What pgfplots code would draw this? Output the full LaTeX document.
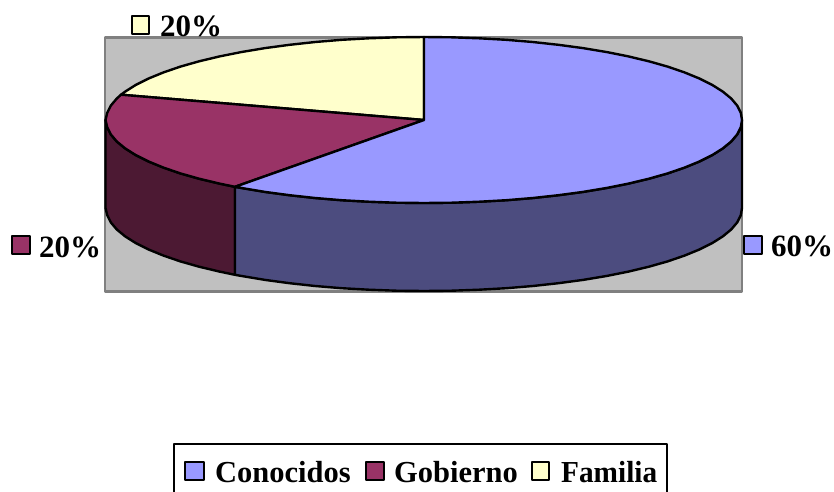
\documentclass[border=0pt]{standalone}
\usepackage{pgfplots}
\pgfplotsset{compat=1.18}
\usepackage{fontspec}
\setmainfont{Liberation Serif}
\definecolor{cblue}{HTML}{9999FF}
\definecolor{cmar}{HTML}{993366}
\definecolor{cyel}{HTML}{FFFFCC}
\definecolor{dblue}{HTML}{4C4C7F}
\definecolor{dmar}{HTML}{4C1933}
\definecolor{plotbg}{HTML}{C0C0C0}
\definecolor{plotln}{HTML}{808080}
\newcommand{\lab}[3]{\node[anchor=base west,inner sep=0pt,font=\fontsize{30.5}{30.5}\selectfont\bfseries] at (axis cs:#1,#2) {#3};}
\newcommand{\pct}[3]{\node[anchor=base west,inner sep=0pt,font=\fontsize{31}{31}\selectfont\bfseries] at (axis cs:#1,#2) {#3};}
\begin{document}
\begin{tikzpicture}
\begin{axis}[
  hide axis, scale only axis, width=834pt, height=491pt,
  xmin=0, xmax=834, ymin=0, ymax=491, y dir=reverse,
  every axis plot/.append style={line join=round, no markers},
  pie/.style={draw=black, line width=2.4pt},
  sw/.style={draw=black, line width=2pt},
]
\addplot[draw=white, fill=white] coordinates {(0,0)(834,0)(834,491)(0,491)} -- cycle;
% plot area
\addplot[draw=plotln, fill=plotbg, line width=2.2pt] coordinates {(105,37.5)(742,37.5)(742,291.5)(105,291.5)} -- cycle;
% side walls
\addplot[pie, fill=dmar] coordinates {
 (105.5,120)(107.2,127.2)(110.8,134.4)(116.8,141.5)(125.2,148.4)(135.8,155.1)(148.6,161.5)(163.5,167.6)(180.4,173.4)(199.1,178.7)(219.6,183.6)(235,186.8)
 (235,274.8)(219.6,271.6)(199.1,266.7)(180.4,261.4)(163.5,255.6)(148.6,249.5)(135.8,243.1)(125.2,236.4)(116.8,229.5)(110.8,222.4)(107.2,215.2)(105.5,208)} -- cycle;
\addplot[pie, fill=dblue] coordinates {
 (235,186.8)(241.6,188)(265,191.9)(289.6,195.2)(315.2,198)(341.7,200.2)(368.8,201.7)(396.3,202.7)(424,203)(451.7,202.7)(479.2,201.7)(506.3,200.2)(532.8,198)(558.4,195.2)(583,191.9)(606.4,188)(628.4,183.6)(648.9,178.7)(667.6,173.4)(684.5,167.6)(699.4,161.5)(712.2,155.1)(722.8,148.4)(731.2,141.5)(737.2,134.4)(740.8,127.2)(742,120)
 (742,208)(740.8,215.2)(737.2,222.4)(731.2,229.5)(722.8,236.4)(712.2,243.1)(699.4,249.5)(684.5,255.6)(667.6,261.4)(648.9,266.7)(628.4,271.6)(606.4,276)(583,279.9)(558.4,283.2)(532.8,286)(506.3,288.2)(479.2,289.7)(451.7,290.7)(424,291)(396.3,290.7)(368.8,289.7)(341.7,288.2)(315.2,286)(289.6,283.2)(265,279.9)(241.6,276)(235,274.8)} -- cycle;
% top faces
\addplot[pie, fill=cyel] coordinates {
 (424,120)(121,94.7)(125.2,91.6)(135.8,84.9)(148.6,78.5)(163.5,72.4)(180.4,66.6)(199.1,61.3)(219.6,56.4)(241.6,52)(265,48.1)(289.6,44.8)(315.2,42)(341.7,39.8)(368.8,38.3)(396.3,37.3)(424,37)} -- cycle;
\addplot[pie, fill=cmar] coordinates {
 (424,120)(235,186.8)(219.6,183.6)(199.1,178.7)(180.4,173.4)(163.5,167.6)(148.6,161.5)(135.8,155.1)(125.2,148.4)(116.8,141.5)(110.8,134.4)(107.2,127.2)(105.5,120)(107.2,112.8)(110.8,105.6)(116.8,98.5)(121,94.7)} -- cycle;
\addplot[pie, fill=cblue] coordinates {
 (424,120)(424,37)(451.7,37.3)(479.2,38.3)(506.3,39.8)(532.8,42)(558.4,44.8)(583,48.1)(606.4,52)(628.4,56.4)(648.9,61.3)(667.6,66.6)(684.5,72.4)(699.4,78.5)(712.2,84.9)(722.8,91.6)(731.2,98.5)(737.2,105.6)(740.8,112.8)(742,120)
 (740.8,127.2)(737.2,134.4)(731.2,141.5)(722.8,148.4)(712.2,155.1)(699.4,161.5)(684.5,167.6)(667.6,173.4)(648.9,178.7)(628.4,183.6)(606.4,188)(583,191.9)(558.4,195.2)(532.8,198)(506.3,200.2)(479.2,201.7)(451.7,202.7)(424,203)(396.3,202.7)(368.8,201.7)(341.7,200.2)(315.2,198)(289.6,195.2)(265,191.9)(241.6,188)(235,186.8)} -- cycle;
% data label keys
\addplot[sw, fill=cyel] coordinates {(131.5,15.5)(149,15.5)(149,33.5)(131.5,33.5)} -- cycle;
\addplot[sw, fill=cmar] coordinates {(11.5,235.5)(29.5,235.5)(29.5,254)(11.5,254)} -- cycle;
\addplot[sw, fill=cblue] coordinates {(743.5,235.5)(761.5,235.5)(761.5,254)(743.5,254)} -- cycle;
% legend frame and keys
\addplot[draw=black, line width=2pt, fill=white] coordinates {(173.5,443.5)(667,443.5)(667,500)(173.5,500)} -- cycle;
\addplot[sw, fill=cblue] coordinates {(185,462)(204,462)(204,480)(185,480)} -- cycle;
\addplot[sw, fill=cmar] coordinates {(365.5,462)(384,462)(384,480)(365.5,480)} -- cycle;
\addplot[sw, fill=cyel] coordinates {(531.5,462)(549,462)(549,480)(531.5,480)} -- cycle;
\pct{160}{36}{20\%}
\pct{39}{257}{20\%}
\pct{771}{256}{60\%}
\lab{215}{482}{Conocidos}
\lab{394}{482}{Gobierno}
\lab{561}{482}{\scalebox{0.96}[1]{Familia}}
\end{axis}
\end{tikzpicture}
\end{document}
